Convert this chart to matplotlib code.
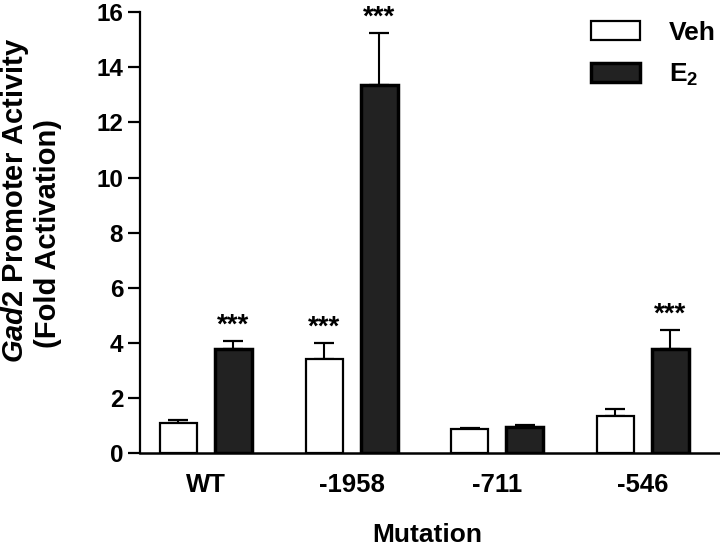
import matplotlib
matplotlib.use("Agg")
import matplotlib.pyplot as plt
import numpy as np

plt.rcParams['font.family'] = ['Liberation Sans', 'DejaVu Sans']
plt.rcParams['font.weight'] = 'bold'
plt.rcParams['mathtext.fontset'] = 'custom'
plt.rcParams['mathtext.rm'] = 'Liberation Sans:bold'
plt.rcParams['mathtext.it'] = 'Liberation Sans:italic:bold'
plt.rcParams['mathtext.bf'] = 'Liberation Sans:bold'

mutations = ['WT', '-1958', '-711', '-546']
veh = [1.10, 3.43, 0.86, 1.33]
veh_err = [0.08, 0.57, 0.05, 0.28]
e2 = [3.77, 13.36, 0.95, 3.77]
e2_err = [0.31, 1.88, 0.05, 0.69]
veh_stars = ['', '***', '', '']
e2_stars = ['***', '***', '', '***']

fig = plt.figure(figsize=(7.2, 5.49), dpi=100)
ax = fig.add_axes([0.1944, 0.1749, 0.8056, 0.8027])

x = np.arange(len(mutations))
w = 0.254
off = 0.189

ax.bar(x - off, veh, w, color='white', edgecolor='black', linewidth=1.6, label='Veh', zorder=2)
ax.bar(x + off, e2, w, color='#222222', edgecolor='black', linewidth=2.5, label=r'E$_2$', zorder=2)
ax.errorbar(x - off, veh, yerr=[np.zeros(4), veh_err], fmt='none', ecolor='black',
            elinewidth=1.5, capsize=7, capthick=1.6, zorder=1)
ax.errorbar(x + off, e2, yerr=[np.zeros(4), e2_err], fmt='none', ecolor='black',
            elinewidth=1.5, capsize=7, capthick=1.6, zorder=1)

for i in range(4):
    if veh_stars[i]:
        ax.text(x[i] - off, veh[i] + veh_err[i] + 0.3, veh_stars[i], ha='center', va='baseline',
                fontsize=20, fontweight='bold', clip_on=False)
    if e2_stars[i]:
        ax.text(x[i] + off, e2[i] + e2_err[i] + 0.3, e2_stars[i], ha='center', va='baseline',
                fontsize=20, fontweight='bold', clip_on=False)

ax.set_xlim(-0.453, 3.529)
ax.set_ylim(0, 16)
ax.set_yticks(np.arange(0, 17, 2))
ax.set_xticks(x)
ax.set_xticklabels(mutations)
ax.tick_params(axis='x', length=0, pad=14.5, labelsize=18.5)
ax.tick_params(axis='y', length=8.5, width=1.6, labelsize=17.5, pad=3.6)
for lab in ax.get_xticklabels() + ax.get_yticklabels():
    lab.set_fontweight('bold')
ax.spines['top'].set_visible(False)
ax.spines['right'].set_visible(False)
ax.spines['left'].set_linewidth(1.6)
ax.spines['bottom'].set_linewidth(1.8)

fig.text(0.594, 0.004, 'Mutation', ha='center', va='bottom',
         fontsize=19, fontweight='bold')

fig.text(0.021, 0.636, r'$\it{Gad2}$ Promoter Activity', rotation=90, ha='center', va='center',
         fontsize=21, fontweight='bold')
fig.text(0.067, 0.575, '(Fold Activation)', rotation=90, ha='center', va='center',
         fontsize=21, fontweight='bold')

leg = ax.legend(loc='upper right', bbox_to_anchor=(1.0, 0.99), frameon=False, fontsize=19,
                handlelength=1.86, handleheight=0.75, labelspacing=0.65, handletextpad=1.1,
                borderpad=0.0, borderaxespad=0.15)
for t in leg.get_texts():
    t.set_fontweight('bold')

fig.savefig('out.png', dpi=100)
